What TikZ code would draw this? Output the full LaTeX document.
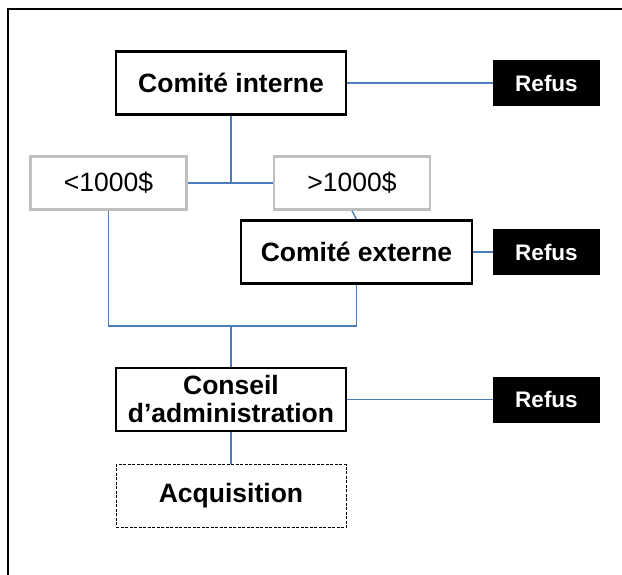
\documentclass[tikz,border=0pt]{standalone}
\usepackage{fontspec}
\setmainfont{Liberation Sans}
\definecolor{linkblue}{HTML}{4A7EBB}
\definecolor{greybox}{HTML}{BFBFBF}
\begin{document}
\begin{tikzpicture}[x=1pt,y=-1pt,
  mainbox/.style={draw=black, line width=2.6pt, fill=white, rectangle, inner sep=0pt,
    font=\fontsize{26.5}{28}\selectfont\bfseries, align=center},
  refusbox/.style={draw=black, fill=black, line width=0.8pt, rectangle, inner sep=0pt,
    minimum width=106pt, minimum height=45pt, text=white, font=\fontsize{22.5}{24}\selectfont\bfseries},
  limitbox/.style={draw=greybox, line width=2.6pt, fill=white, rectangle, inner sep=0pt,
    minimum width=156pt, minimum height=53pt, font=\fontsize{26.5}{28}\selectfont},
  acqbox/.style={draw=black, dashed, dash pattern=on 3pt off 1.5pt, line width=0.9pt, rectangle, inner sep=0pt,
    minimum width=230pt, minimum height=63pt, font=\fontsize{26.5}{28}\selectfont\bfseries},
  link/.style={draw=linkblue, line width=1.4pt}]
\useasboundingbox (0,0) rectangle (622,575);
% frame
\draw[line width=2.6pt] (8,580) -- (8,9) -- (630,9);
% nodes
\node[mainbox, minimum width=230pt, minimum height=63pt] (ci) at (231,83) {Comité interne};
\node[refusbox] (r1) at (546.5,83) {Refus};
\node[limitbox] (lt) at (108.5,183) {<1000\$};
\node[limitbox] (gt) at (352,183) {>1000\$};
\node[mainbox, minimum width=231pt, minimum height=63pt] (ce) at (356.5,252) {Comité externe};
\node[refusbox] (r2) at (546.5,252) {Refus};
\node[mainbox, minimum width=230pt, minimum height=63pt] (ca) at (231,399.5) {Conseil\\d’administration};
\node[refusbox] (r3) at (546.5,399.5) {Refus};
\node[acqbox] (aq) at (231,496) {Acquisition};
\coordinate (j1) at (231,183);
\coordinate (j2) at (231,326);
% connectors
\draw[link] (ci.east) -- (r1.west);
\draw[link] (lt.east) -- (gt.west);
\draw[link] (ci.south) -- (j1);
\draw[link] (gt.south) -- (ce.north);
\draw[link] (ce.east) -- (r2.west);
\draw[link] (lt.south) |- (j2) -| (ce.south);
\draw[link] (j2) -- (ca.north);
\draw[link] (ca.east) -- (r3.west);
\draw[link] (ca.south) -- (aq.north);
\end{tikzpicture}
\end{document}
